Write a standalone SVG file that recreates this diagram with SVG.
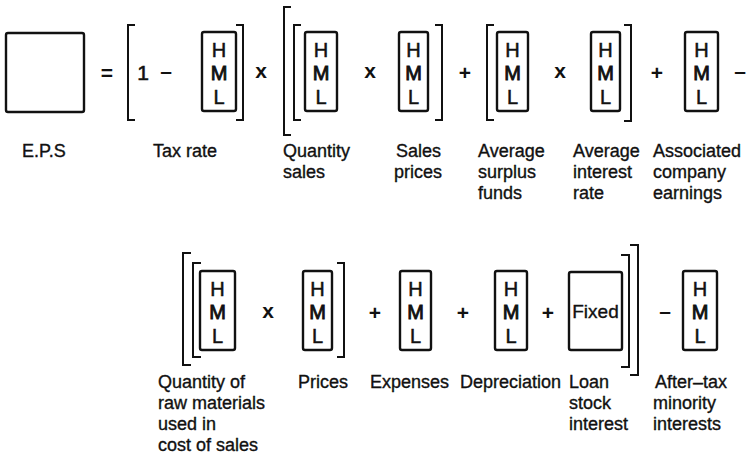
<svg xmlns="http://www.w3.org/2000/svg" width="748" height="468" viewBox="0 0 748 468">
<style>
  .bg{fill:#ffffff}
  .box{fill:#ffffff;stroke:#111;stroke-width:2.4}
  .br{fill:none;stroke:#111;stroke-width:2}
  .t{font-family:"Liberation Sans",Arial,sans-serif;font-size:18px;fill:#111;stroke:#111;stroke-width:0.35}
  .hml{font-family:"Liberation Sans",Arial,sans-serif;font-size:20px;fill:#111;stroke:#111;stroke-width:0.5;text-anchor:middle}
  .m{stroke-width:0.9}
  .op{font-family:"Liberation Sans",Arial,sans-serif;font-size:21px;fill:#111;text-anchor:middle;font-weight:bold}
</style>
<rect class="bg" x="0" y="0" width="748" height="468"/>

<!-- Row 1 -->
<g id="eps">
  <rect class="box" x="6" y="33" width="78" height="79" rx="2"/>
  <text class="t" x="22" y="157">E.P.S</text>
</g>
<g id="tax-rate">
  <rect class="box" x="202" y="32" width="34" height="79" rx="2"/>
  <text class="hml" x="219" y="57">H</text><text class="hml m" x="219" y="80">M</text><text class="hml" x="219" y="104">L</text>
  <text class="t" x="153" y="157">Tax rate</text>
</g>
<g id="quantity-sales">
  <rect class="box" x="305" y="32" width="32" height="79" rx="2"/>
  <text class="hml" x="321" y="57">H</text><text class="hml m" x="321" y="80">M</text><text class="hml" x="321" y="104">L</text>
  <text class="t" x="283" y="157">Quantity</text>
  <text class="t" x="283" y="178">sales</text>
</g>
<g id="sales-prices">
  <rect class="box" x="399" y="32" width="29" height="79" rx="2"/>
  <text class="hml" x="413.5" y="57">H</text><text class="hml m" x="413.5" y="80">M</text><text class="hml" x="413.5" y="104">L</text>
  <text class="t" x="396" y="157">Sales</text>
  <text class="t" x="394" y="178">prices</text>
</g>
<g id="surplus-funds">
  <rect class="box" x="497" y="32" width="31" height="79" rx="2"/>
  <text class="hml" x="512.5" y="57">H</text><text class="hml m" x="512.5" y="80">M</text><text class="hml" x="512.5" y="104">L</text>
  <text class="t" x="478" y="157">Average</text>
  <text class="t" x="478" y="178">surplus</text>
  <text class="t" x="478" y="199">funds</text>
</g>
<g id="interest-rate">
  <rect class="box" x="591" y="32" width="29" height="79" rx="2"/>
  <text class="hml" x="605.5" y="57">H</text><text class="hml m" x="605.5" y="80">M</text><text class="hml" x="605.5" y="104">L</text>
  <text class="t" x="573" y="157">Average</text>
  <text class="t" x="573" y="178">interest</text>
  <text class="t" x="573" y="199">rate</text>
</g>
<g id="associated-earnings">
  <rect class="box" x="685" y="32" width="33" height="79" rx="2"/>
  <text class="hml" x="701.5" y="57">H</text><text class="hml m" x="701.5" y="80">M</text><text class="hml" x="701.5" y="104">L</text>
  <text class="t" x="653" y="157">Associated</text>
  <text class="t" x="653" y="178">company</text>
  <text class="t" x="653" y="199">earnings</text>
</g>

<!-- Row 2 -->
<g id="raw-materials">
  <rect class="box" x="200" y="271" width="35" height="79" rx="2"/>
  <text class="hml" x="217.5" y="296">H</text><text class="hml m" x="217.5" y="319">M</text><text class="hml" x="217.5" y="343">L</text>
  <text class="t" x="158" y="388">Quantity of</text>
  <text class="t" x="158" y="409">raw materials</text>
  <text class="t" x="158" y="430">used in</text>
  <text class="t" x="158" y="451">cost of sales</text>
</g>
<g id="prices">
  <rect class="box" x="303" y="271" width="29" height="79" rx="2"/>
  <text class="hml" x="317.5" y="296">H</text><text class="hml m" x="317.5" y="319">M</text><text class="hml" x="317.5" y="343">L</text>
  <text class="t" x="298" y="388">Prices</text>
</g>
<g id="expenses">
  <rect class="box" x="400" y="271" width="31" height="79" rx="2"/>
  <text class="hml" x="415.5" y="296">H</text><text class="hml m" x="415.5" y="319">M</text><text class="hml" x="415.5" y="343">L</text>
  <text class="t" x="370" y="388">Expenses</text>
</g>
<g id="depreciation">
  <rect class="box" x="495" y="271" width="32" height="79" rx="2"/>
  <text class="hml" x="511" y="296">H</text><text class="hml m" x="511" y="319">M</text><text class="hml" x="511" y="343">L</text>
  <text class="t" x="460" y="388">Depreciation</text>
</g>
<g id="loan-stock-interest">
  <rect class="box" x="569" y="272" width="53" height="78" rx="2"/>
  <text class="t" x="595.5" y="318" text-anchor="middle" style="font-size:19px">Fixed</text>
  <text class="t" x="569" y="388">Loan</text>
  <text class="t" x="569" y="409">stock</text>
  <text class="t" x="569" y="430">interest</text>
</g>
<g id="minority-interests">
  <rect class="box" x="683" y="271" width="34" height="79" rx="2"/>
  <text class="hml" x="700" y="296">H</text><text class="hml m" x="700" y="319">M</text><text class="hml" x="700" y="343">L</text>
  <text class="t" x="655" y="388">After–tax</text>
  <text class="t" x="653" y="409">minority</text>
  <text class="t" x="653" y="430">interests</text>
</g>

<!-- Brackets -->
<g id="brackets">
  <path class="br" d="M135,25 H128 V120 H135"/>
  <path class="br" d="M236,25 H243 V120 H236"/>
  <path class="br" d="M291,7 H284 V135 H291"/>
  <path class="br" d="M301,25 H294 V120 H301"/>
  <path class="br" d="M435,25 H442 V120 H435"/>
  <path class="br" d="M494,25 H487 V120 H494"/>
  <path class="br" d="M624,25 H631 V121 H624"/>
  <path class="br" d="M191,253 H183 V365 H191"/>
  <path class="br" d="M201,263 H193 V357 H201"/>
  <path class="br" d="M337,263 H344 V357 H337"/>
  <path class="br" d="M621,255 H629 V367 H621"/>
  <path class="br" d="M630,245 H638 V375 H630"/>
</g>

<!-- Operators -->
<g id="operators">
  <text class="op" x="107" y="80">=</text>
  <text class="op" x="143" y="80" style="font-weight:normal;stroke:#111;stroke-width:0.6">1</text>
  <text class="op" x="166" y="78">–</text>
  <text class="op" x="261" y="78">x</text>
  <text class="op" x="370" y="78">x</text>
  <text class="op" x="465" y="80">+</text>
  <text class="op" x="560" y="78">x</text>
  <text class="op" x="657" y="80">+</text>
  <text class="op" x="740" y="78">–</text>
  <text class="op" x="268" y="318">x</text>
  <text class="op" x="375" y="320">+</text>
  <text class="op" x="463" y="320">+</text>
  <text class="op" x="548" y="320">+</text>
  <text class="op" x="665" y="318">–</text>
</g>
</svg>
